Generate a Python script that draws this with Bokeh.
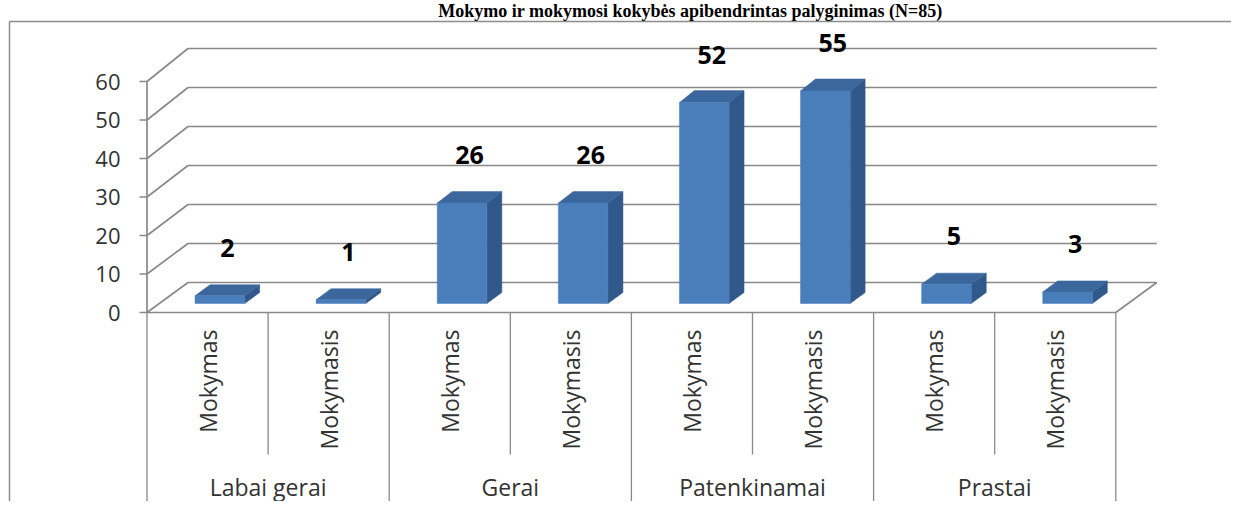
import numpy as np
from bokeh.plotting import figure
from bokeh.models import Range1d
from bokeh.core.properties import value
from bokeh.embed import file_html
from bokeh.resources import INLINE

# ---------------- data ----------------
title_text = "Mokymo ir mokymosi kokybės apibendrintas palyginimas (N=85)"
groups = ["Labai gerai", "Gerai", "Patenkinamai", "Prastai"]
series = ["Mokymas", "Mokymasis"]
mokymas = [2, 26, 52, 5]
mokymasis = [1, 26, 55, 3]
y_ticks = [0, 10, 20, 30, 40, 50, 60]
y_tick_labels = ["0", "10", "20", "30", "40", "50", "60"]

values = []
sub_labels = []
for a, b in zip(mokymas, mokymasis):
    values += [a, b]
    sub_labels += series
n = len(values)

# ---------------- layout (pixels, canvas coordinates) ----------------
W, H = 1231, 501
AX_X = 146.5             # x of front-left floor corner
AX_Y = 312.0             # y of value 0 on the front plane
SLOT = 121.1             # px per category slot
KPX = 3.85               # px per value unit
DEPTH_PX_X, DEPTH_PX_Y = 41.0, 30.0
PS = 0.013               # slight perspective growth toward the back


def X(px):
    return (px - AX_X) / SLOT


def V(py):
    return (AX_Y - py) / KPX


DX = DEPTH_PX_X / SLOT
DY = DEPTH_PX_Y / KPX


def proj(x, v, d):
    return x + d * DX, v * (1 + PS * d) + d * DY


BW = 0.41
F0, F1 = 0.30, 0.665

GRID = "#898989"
TXT = "#333333"

p = figure(width=W, height=H,
           x_range=Range1d(X(0), X(W)),
           y_range=Range1d(V(H), V(0)),
           x_axis_type=None, y_axis_type=None,
           toolbar_location=None, output_backend="svg", min_border=0)
p.outline_line_color = None
p.background_fill_color = "white"
p.border_fill_color = "white"

# ---------------- walls / grid ----------------
xs, ys = [], []
ymax = max(y_ticks)
for t in y_ticks:
    x0, y0 = proj(0, t, 0)
    x1, y1 = proj(0, t, 1)
    xs.append([x0, x1]); ys.append([y0, y1])          # left wall line
    x2, y2 = proj(n, t, 1)
    xs.append([x1, x2]); ys.append([y1, y2])          # back wall line
a0 = proj(0, 0, 0); a1 = proj(0, ymax, 0)
xs.append([a0[0], a1[0]]); ys.append([a0[1], a1[1]])  # front value axis
f0 = proj(n, 0, 0); f1 = proj(n, 0, 1)
xs.append([a0[0], f0[0]]); ys.append([a0[1], f0[1]])  # floor front edge
xs.append([f0[0], f1[0]]); ys.append([f0[1], f1[1]])  # floor right edge
p.multi_line(xs, ys, line_color=GRID, line_width=1.7)

# tick marks and labels
p.multi_line([[X(139), 0] for t in y_ticks], [[t, t] for t in y_ticks],
             line_color=GRID, line_width=1.5)
p.text(x=[X(120)] * len(y_ticks), y=y_ticks, text=y_tick_labels,
       text_align="right", text_baseline="middle",
       text_font=value("Open Sans"), text_font_size="22px", text_color=TXT)

# ---------------- category axis ----------------
sx, sy = [], []
for k in range(n + 1):
    bottom = V(454) if k % 2 == 1 else V(501)
    sx.append([k, k]); sy.append([0, bottom])
p.multi_line(sx, sy, line_color=GRID, line_width=1.3)

p.text(x=[i + 0.5 for i in range(n)], y=[V(329)] * n, text=sub_labels,
       angle=np.pi / 2, text_align="right", text_baseline="middle",
       text_font=value("Open Sans"), text_font_size="23px", text_color=TXT)
p.text(x=[2 * g + 1 for g in range(len(groups))], y=[V(486)] * len(groups),
       text=groups, text_align="center", text_baseline="middle",
       text_font=value("Open Sans"), text_font_size="23px", text_color=TXT)

# ---------------- bars ----------------
front_x, front_y, side_x, side_y, top_x, top_y = [], [], [], [], [], []
lab_x, lab_y = [], []
for i, v in enumerate(values):
    c = i + 0.5
    xl, xr = c - BW / 2, c + BW / 2
    pts = [proj(xl, 0, F0), proj(xr, 0, F0), proj(xr, v, F0), proj(xl, v, F0)]
    front_x.append([q[0] for q in pts]); front_y.append([q[1] for q in pts])
    pts = [proj(xr, 0, F0), proj(xr, 0, F1), proj(xr, v, F1), proj(xr, v, F0)]
    side_x.append([q[0] for q in pts]); side_y.append([q[1] for q in pts])
    pts = [proj(xl, v, F0), proj(xr, v, F0), proj(xr, v, F1), proj(xl, v, F1)]
    top_x.append([q[0] for q in pts]); top_y.append([q[1] for q in pts])
    lx, _ = proj(c, v, (F0 + F1) / 2)
    lab_x.append(lx)
    lab_y.append(proj(c, v, F0)[1] + 48 / KPX)

p.patches(side_x, side_y, fill_color="#30588a", line_color="#30588a", line_width=0.5)
p.patches(top_x, top_y, fill_color="#3c679c", line_color="#3c679c", line_width=0.5)
p.patches(front_x, front_y, fill_color="#4a7ebb", line_color="#4a7ebb", line_width=0.5)

p.text(x=lab_x, y=lab_y, text=[str(v) for v in values],
       text_align="center", text_baseline="middle",
       text_font=value("Open Sans"), text_font_style="bold",
       text_font_size="25px", text_color="black")

# ---------------- frame and title ----------------
FRAME_TOP = 21
p.multi_line([[X(9), X(W)], [X(9), X(9)]],
             [[V(FRAME_TOP), V(FRAME_TOP)], [V(FRAME_TOP), V(H)]],
             line_color="#8c8c8c", line_width=1.5)
p.text(x=[X(690)], y=[V(10)], text=[title_text],
       text_align="center", text_baseline="middle",
       text_font=value("Liberation Serif"), text_font_style="bold",
       text_font_size="18px", text_color="black")

open("out.html", "w").write(file_html(p, INLINE))
